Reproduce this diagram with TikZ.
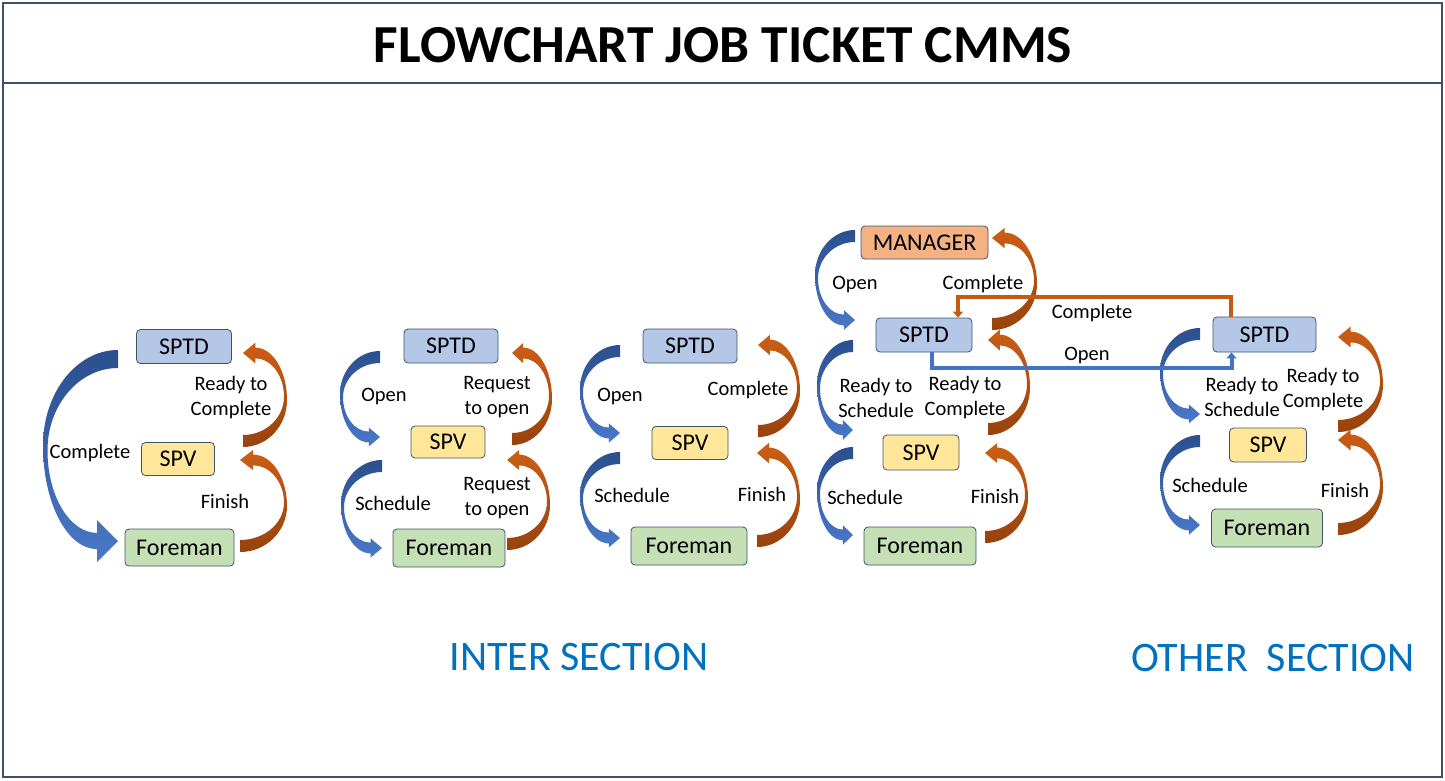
\documentclass[tikz,border=0pt]{standalone}
\usepackage{fontspec}
\setmainfont{Carlito}
\usetikzlibrary{arrows.meta,calc}
\definecolor{bluelight}{HTML}{4A78C8}
\definecolor{bluedark}{HTML}{2B4F8E}
\definecolor{orangelight}{HTML}{CC5E14}
\definecolor{orangedark}{HTML}{98420E}
\definecolor{sptdfill}{HTML}{B4C7E7}
\definecolor{spvfill}{HTML}{FFE699}
\definecolor{forefill}{HTML}{C5E0B4}
\definecolor{mgrfill}{HTML}{F4B183}
\definecolor{boxline}{HTML}{41536B}
\definecolor{framecol}{HTML}{3E5068}
\definecolor{secblue}{HTML}{0070C0}
\definecolor{connorange}{HTML}{C55A11}
\definecolor{connblue}{HTML}{4472C4}
\tikzset{
  box/.style={draw=boxline, line width=0.8pt, rounded corners=4pt, inner sep=0pt,
    font=\fontsize{24}{28}\selectfont},
  sptdbox/.style={box, fill=sptdfill, minimum width=95pt, minimum height=34pt},
  spvbox/.style={box, fill=spvfill, minimum width=75pt, minimum height=33pt},
  forebox/.style={box, fill=forefill, minimum width=112pt, minimum height=38pt},
  mgrbox/.style={box, fill=mgrfill, minimum width=127pt, minimum height=33pt},
  lbl/.style={align=center, inner sep=0pt, font=\fontsize{20.5}{25}\selectfont},
  seclbl/.style={inner sep=0pt, text=secblue, font=\fontsize{42}{48}\selectfont},
  frameline/.style={draw=framecol, line width=1.2pt},
  orangeconn/.style={draw=connorange, line width=4pt, -{Triangle[width=10pt,length=6pt]}},
  blueconn/.style={draw=connblue, line width=4pt, -{Triangle[width=10pt,length=6pt]}},
  bluegrad/.style={top color=bluedark, bottom color=bluelight},
  orangegrad/.style={top color=orangelight, bottom color=orangedark},
  pics/carrow/.style n args={4}{code={
    \pgfmathsetmacro\qW{#1}
    \pgfmathsetmacro\qH{#2}
    \pgfmathsetmacro\qT{#3}
    \pgfmathsetmacro\qHL{0.28*\qW}
    \pgfmathsetmacro\qHH{0.11*\qH}
    \pgfmathsetmacro\qB{0.45*\qT}
    \pgfmathsetmacro\qE{0.25*\qT}
    \pgfmathsetmacro\qK{0.5523}
    \pgfmathsetmacro\qYm{0.5*\qH}
    \pgfmathsetmacro\qYi{0.5*(\qT+\qH-\qB)}
    \pgfmathsetmacro\qnW{-\qW}
    \pgfmathsetmacro\qnHL{-\qHL}
    \pgfmathsetmacro\qHpB{\qH+\qB}
    \pgfmathsetmacro\qHmB{\qH-\qB}
    \pgfmathsetmacro\qHpHH{\qH+\qHH}
    \pgfmathsetmacro\qHmHH{\qH-\qHH}
    \pgfmathsetmacro\qaX{-\qK*\qW}
    \pgfmathsetmacro\qaY{\qYm-\qK*\qYm}
    \pgfmathsetmacro\qbY{\qYm+\qK*(\qH+\qB-\qYm)}
    \pgfmathsetmacro\qbX{-\qHL-\qK*(\qW-\qHL)}
    \pgfmathsetmacro\qcX{-\qHL-\qK*(\qW-\qE-\qHL)}
    \pgfmathsetmacro\qcY{\qYi+\qK*(\qH-\qB-\qYi)}
    \pgfmathsetmacro\qdY{\qYi-\qK*(\qYi-\qT)}
    \pgfmathsetmacro\qdX{-\qK*(\qW-\qE)}
    \pgfmathsetmacro\qmX{-\qW+\qE}
    \shade[#4] (0,0) .. controls (\qaX,0) and (\qnW,\qaY) .. (\qnW,\qYm)
      .. controls (\qnW,\qbY) and (\qbX,\qHpB) .. (\qnHL,\qHpB)
      -- (\qnHL,\qHpHH) -- (0,\qH) -- (\qnHL,\qHmHH) -- (\qnHL,\qHmB)
      .. controls (\qcX,\qHmB) and (\qmX,\qcY) .. (\qmX,\qYi)
      .. controls (\qmX,\qdY) and (\qdX,\qT) .. (0,\qT) -- cycle;
  }}
}
\begin{document}
\begin{tikzpicture}[x=1pt,y=-1pt]
\useasboundingbox (0,0) rectangle (1445,780);
\fill[white] (0,0) rectangle (1445,780);
\draw[frameline] (3,3) rectangle (1442,777);
\draw[frameline] (3,83) -- (1442,83);
\node[inner sep=0pt, font=\fontsize{53.5}{60}\selectfont\bfseries] (title) at (723,45) {FLOWCHART JOB TICKET CMMS};

% ---------- group 1 ----------
\node[sptdbox] (g1sptd) at (184,346.5) {SPTD};
\node[spvbox, minimum width=73pt] (g1spv) at (178,459) {SPV};
\node[forebox, minimum width=109pt, minimum height=37pt] (g1fore) at (179.5,547.5) {Foreman};
\pic at (118,350) {carrow={75}{191}{18}{bluegrad}};
\pic[rotate=180] at (243,447) {carrow={44}{94}{12}{orangegrad}};
\pic[rotate=180] at (240,552) {carrow={47}{92}{12}{orangegrad}};
\node[lbl] (g1l1) at (90,453) {Complete};
\node[lbl] (g1l2) at (231,397.5) {Ready to\\Complete};
\node[lbl] (g1l3) at (225,501) {Finish};

% ---------- group 2 ----------
\node[sptdbox, minimum width=94pt] (g2sptd) at (451,346) {SPTD};
\node[spvbox, minimum width=74pt, minimum height=32pt] (g2spv) at (448,442) {SPV};
\node[forebox] (g2fore) at (449,548) {Foreman};
\pic at (380,351) {carrow={40}{86}{12}{bluegrad}};
\pic at (382,460) {carrow={41}{88}{12}{bluegrad}};
\pic[rotate=180] at (512,445) {carrow={40}{92}{12}{orangegrad}};
\pic[rotate=180] at (507,550) {carrow={43}{90}{12}{orangegrad}};
\node[lbl] (g2l1) at (384,396) {Open};
\node[lbl] (g2l2) at (497,397.5) {Request\\to open};
\node[lbl] (g2l3) at (393,503) {Schedule};
\node[lbl] (g2l4) at (497,498.5) {Request\\to open};

% ---------- group 3 ----------
\node[sptdbox, minimum width=94pt] (g3sptd) at (690,346) {SPTD};
\node[spvbox, minimum width=76pt] (g3spv) at (690,443) {SPV};
\node[forebox, minimum width=116pt] (g3fore) at (689,546) {Foreman};
\pic at (620,345) {carrow={40}{88}{12}{bluegrad}};
\pic at (620,452) {carrow={40}{86}{12}{bluegrad}};
\pic[rotate=180] at (758,437) {carrow={42}{92}{12}{orangegrad}};
\pic[rotate=180] at (757,547) {carrow={43}{94}{12}{orangegrad}};
\node[lbl] (g3l1) at (620,396) {Open};
\node[lbl] (g3l2) at (748,390) {Complete};
\node[lbl] (g3l3) at (632,495) {Schedule};
\node[lbl] (g3l4) at (762,494) {Finish};

% ---------- group 4 ----------
\node[mgrbox] (g4mgr) at (924.5,242.5) {MANAGER};
\node[sptdbox, minimum width=96pt] (g4sptd) at (924,335) {SPTD};
\node[spvbox, minimum width=76pt, minimum height=35pt] (g4spv) at (921,452.5) {SPV};
\node[forebox] (g4fore) at (920,546) {Foreman};
\pic at (855,230) {carrow={40}{90}{12}{bluegrad}};
\pic[rotate=180] at (992,330) {carrow={45}{92}{12}{orangegrad}};
\pic at (853,340) {carrow={36}{90}{12}{bluegrad}};
\pic[rotate=180] at (988,435) {carrow={42}{95}{12}{orangegrad}};
\pic at (853,447) {carrow={36}{88}{12}{bluegrad}};
\pic[rotate=180] at (985,543) {carrow={43}{90}{12}{orangegrad}};
\node[lbl] (g4l1) at (855,284) {Open};
\node[lbl] (g4l2) at (983,284) {Complete};
\node[lbl] (g4l3) at (876,397.5) {Ready to\\Schedule};
\node[lbl] (g4l4) at (965,397.5) {Ready to\\Complete};
\node[lbl] (g4l5) at (865,497) {Schedule};
\node[lbl] (g4l6) at (995,496) {Finish};

% ---------- group 5 ----------
\node[sptdbox, minimum width=103pt, minimum height=35pt] (g5sptd) at (1264.5,334.5) {SPTD};
\node[spvbox, minimum width=77pt, minimum height=34pt] (g5spv) at (1268,445) {SPV};
\node[forebox, minimum width=111pt] (g5fore) at (1267,528) {Foreman};
\pic at (1200,328) {carrow={40}{86}{12}{bluegrad}};
\pic[rotate=180] at (1338,432) {carrow={45}{95}{12}{orangegrad}};
\pic at (1200,435) {carrow={40}{90}{12}{bluegrad}};
\pic[rotate=180] at (1338,535) {carrow={45}{95}{12}{orangegrad}};
\node[lbl] (g5l1) at (1242,396.5) {Ready to\\Schedule};
\node[lbl] (g5l2) at (1323,389.5) {Ready to\\Complete};
\node[lbl] (g5l3) at (1210,485) {Schedule};
\node[lbl] (g5l4) at (1345,490) {Finish};

% ---------- cross connectors ----------
\draw[orangeconn] ($(g5sptd.north)+(-34,0)$) -- ++(0,-20) -| ($(g4sptd.north)+(34,0)$);
\draw[blueconn] ($(g4sptd.south)+(8,0)$) -- ++(0,16) -| ($(g5sptd.south)+(-33,0)$);
\node[lbl] (cl1) at (1092,313) {Complete};
\node[lbl] (cl2) at (1087,355) {Open};

% ---------- sections ----------
\node[seclbl] (sec1) at (579,657) {INTER SECTION};
\node[seclbl] (sec2) at (1273,658) {OTHER\ \ SECTION};
\end{tikzpicture}
\end{document}
